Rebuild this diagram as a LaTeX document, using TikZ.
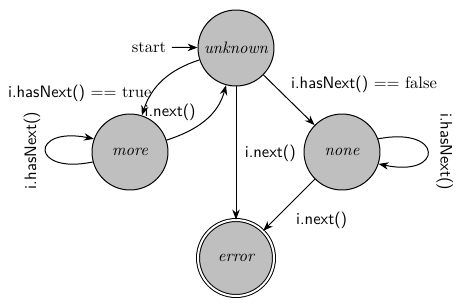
\documentclass[tikz,border=0pt]{standalone}
\usepackage{fontspec}
\usepackage{tikz}
\usetikzlibrary{arrows.meta,positioning}

\begin{document}
\begin{tikzpicture}[
  x=0.0212cm, y=-0.0212cm,
  state/.style={draw, circle, fill=gray!50, minimum size=1.61cm,
                inner sep=0pt, font=\itshape, semithick},
  accept/.style={state, double, double distance=1.2pt},
  trans/.style={draw, semithick, -{Stealth[length=6pt,width=4.5pt]}}
]
\useasboundingbox (0,0) rectangle (457,306);

% States
\node[state]  (unknown) at (236, 48)  {unknown};
\node[state]  (more)    at (130, 152) {more};
\node[state]  (none)    at (342, 152) {none};
\node[accept] (error)   at (236, 258) {error};

% Initial arrow
\node (start) at (149, 47) {start};
\draw[trans] (start) -- (unknown);

% Transitions
\draw[trans] (unknown) to[out=198, in=72]
  node[pos=0.72, left, inner sep=0pt] {\textsf{i.hasNext()} $==$ true} (more);
\draw[trans] (more) to[out=18, in=255]
  node[pos=0.3, above left, inner sep=0pt, xshift=3pt, yshift=5pt] {\textsf{i.next()}} (unknown);
\draw[trans] (unknown) --
  node[right, inner sep=5pt] {\textsf{i.next()}} (error);
\draw[trans] (unknown) --
  node[above right, inner sep=1pt, yshift=3pt] {\textsf{i.hasNext()} $==$ false} (none);
\draw[trans] (none) --
  node[below right, inner sep=4pt] {\textsf{i.next()}} (error);

% Self loops
\draw[trans] (more.195) .. controls (30,175) and (30,126) ..
  node[rotate=90, above, inner sep=3pt] {\textsf{i.hasNext()}} (more.160);
\draw[trans] (none.20) .. controls (444,126) and (444,178) ..
  node[rotate=-90, above, inner sep=5pt] {\textsf{i.hasNext()}} (none.-18);

\end{tikzpicture}
\end{document}
